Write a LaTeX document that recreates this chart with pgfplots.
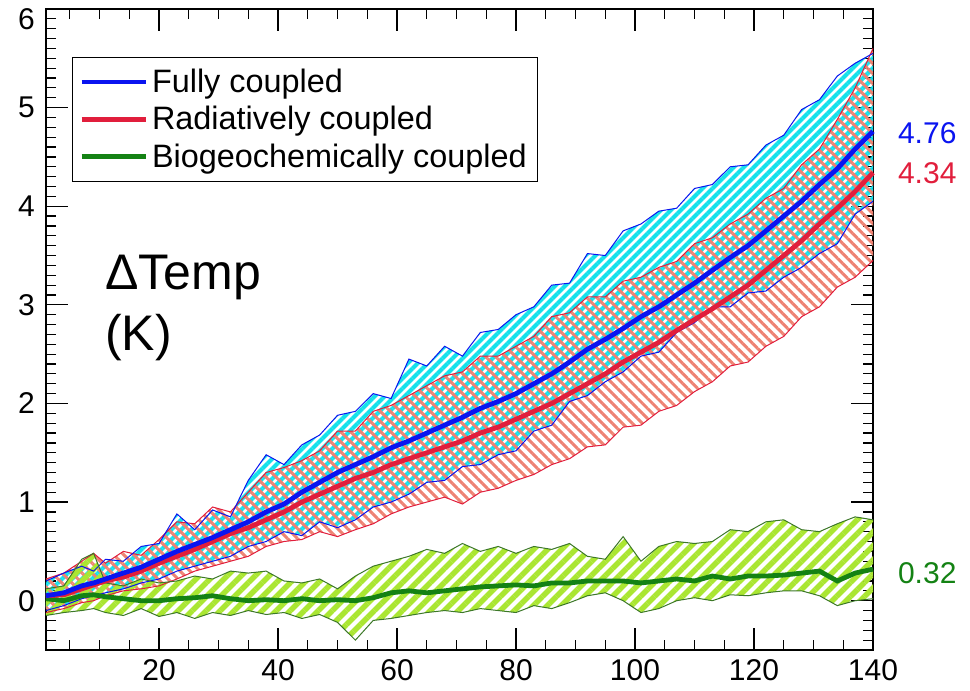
\documentclass[border=0pt]{standalone}
\usepackage{fontspec}
\setmainfont{Liberation Sans}
\usepackage{pgfplots}
\pgfplotsset{compat=1.18}
\usepackage{pgfplotstable}
\usepgfplotslibrary{fillbetween}
\usetikzlibrary{patterns.meta}

\definecolor{fcblue}{RGB}{10,20,240}
\definecolor{rcred}{RGB}{225,30,60}
\definecolor{bcgreen}{RGB}{20,130,20}
\definecolor{hatchcyan}{RGB}{20,225,235}
\definecolor{hatchred}{RGB}{238,130,115}
\definecolor{hatchgreen}{RGB}{170,230,50}
\definecolor{gedge}{RGB}{60,120,40}

\pgfplotstableread{
x   bm    bu    bl     rm    ru    rl     gm    gu    gl
1   0.05  0.20  -0.10  0.05  0.22  -0.12  0.02  0.12  -0.15
4   0.08  0.28  -0.05  0.06  0.28  -0.08  0.00  0.15  -0.12
7   0.15  0.35  0.02   0.12  0.40  -0.02  0.05  0.42  -0.10
9   0.18  0.30  0.05   0.16  0.48  0.00   0.06  0.48  -0.08
11  0.22  0.42  0.08   0.20  0.38  0.05   0.04  0.18  -0.12
14  0.28  0.40  0.12   0.24  0.50  0.10   0.02  0.15  -0.15
17  0.34  0.55  0.18   0.30  0.46  0.12   0.00  0.22  -0.08
20  0.42  0.58  0.22   0.38  0.62  0.15   0.00  0.18  -0.16
23  0.50  0.88  0.30   0.45  0.80  0.22   0.02  0.20  -0.12
26  0.57  0.72  0.35   0.52  0.78  0.30   0.03  0.25  -0.18
29  0.64  0.92  0.40   0.60  0.95  0.35   0.05  0.22  -0.12
32  0.72  0.85  0.45   0.68  0.90  0.40   0.02  0.30  -0.15
35  0.80  1.22  0.55   0.74  1.10  0.45   0.00  0.28  -0.10
38  0.90  1.48  0.60   0.82  1.30  0.55   0.01  0.30  -0.14
41  0.98  1.38  0.70   0.90  1.35  0.60   0.00  0.20  -0.12
44  1.10  1.58  0.66   1.00  1.42  0.62   0.02  0.18  -0.18
47  1.20  1.68  0.80   1.08  1.52  0.70   0.00  0.22  -0.14
50  1.30  1.88  0.74   1.16  1.72  0.65   0.01  0.12  -0.22
53  1.38  1.92  0.82   1.24  1.72  0.72   0.00  0.25  -0.40
56  1.46  2.10  0.95   1.30  1.92  0.78   0.03  0.35  -0.20
59  1.55  2.05  1.00   1.38  1.98  0.88   0.08  0.40  -0.18
62  1.62  2.45  1.08   1.44  2.08  0.95   0.10  0.45  -0.15
65  1.70  2.38  1.20   1.50  2.18  1.00   0.08  0.52  -0.12
68  1.78  2.58  1.22   1.56  2.28  1.05   0.10  0.48  -0.10
71  1.86  2.48  1.36   1.62  2.32  0.98   0.12  0.58  -0.12
74  1.95  2.72  1.38   1.70  2.48  1.10   0.14  0.50  -0.08
77  2.02  2.75  1.48   1.76  2.48  1.14   0.15  0.55  -0.10
80  2.10  2.90  1.52   1.84  2.58  1.22   0.16  0.48  -0.12
83  2.20  2.98  1.72   1.92  2.68  1.28   0.15  0.55  -0.05
86  2.30  3.20  1.78   2.00  2.88  1.38   0.18  0.52  -0.08
89  2.42  3.22  2.02   2.10  2.92  1.44   0.18  0.58  -0.02
92  2.55  3.52  2.08   2.20  3.08  1.56   0.20  0.45  0.05
95  2.65  3.50  2.22   2.30  3.08  1.58   0.20  0.42  0.08
98  2.76  3.75  2.32   2.42  3.24  1.76   0.20  0.65  0.00
101 2.88  3.82  2.48   2.52  3.28  1.78   0.18  0.40  -0.12
104 2.98  3.95  2.52   2.62  3.38  1.92   0.20  0.55  -0.08
107 3.10  3.98  2.72   2.74  3.44  1.98   0.22  0.60  0.00
110 3.22  4.18  2.82   2.85  3.62  2.12   0.20  0.58  0.03
113 3.35  4.22  2.98   2.96  3.68  2.22   0.25  0.60  0.00
116 3.48  4.40  2.98   3.08  3.82  2.38   0.22  0.72  0.06
119 3.60  4.42  3.12   3.20  3.92  2.42   0.25  0.70  0.05
122 3.75  4.62  3.14   3.35  4.08  2.58   0.25  0.80  0.08
125 3.90  4.72  3.28   3.50  4.18  2.68   0.26  0.82  0.10
128 4.05  4.98  3.38   3.65  4.42  2.88   0.28  0.72  0.10
131 4.22  5.08  3.52   3.82  4.58  2.98   0.30  0.70  0.05
134 4.38  5.32  3.62   3.98  4.88  3.18   0.20  0.78  -0.05
137 4.58  5.45  3.92   4.15  5.20  3.28   0.28  0.85  0.00
140 4.76  5.55  4.05   4.34  5.60  3.45   0.32  0.82  0.02
}\data

\begin{document}
\begin{tikzpicture}
\begin{axis}[
  at={(0,0)}, anchor=south west,
  scale only axis, width=413.5pt, height=320.5pt,
  xmin=1, xmax=140, ymin=-0.5, ymax=6,
  xtick={20,40,...,140}, minor xtick={5,10,...,135},
  ytick={0,1,...,5}, minor ytick={-0.4,-0.3,...,5.95},
  extra y ticks={6},
  extra y tick style={yticklabel style={yshift=-5pt}},
  tick align=inside, major tick length=11pt, minor tick length=5pt,
  axis line style={line width=0.9pt},
  every tick/.style={black, line width=0.6pt},
  tick label style={font=\fontsize{15}{17}\selectfont},
  yticklabel style={xshift=-2pt},
  xticklabel style={yshift=-1pt},
  /pgf/number format/assume math mode=true,
  clip=false,
  legend cell align=left,
  legend image code/.code={\draw[#1] (0pt,0pt) -- (32pt,0pt);},
  legend style={at={(0.031,0.925)}, anchor=north west, draw=black, line width=0.6pt,
    fill=white, font=\fontsize{16.2}{19}\selectfont, row sep=1.5pt, inner sep=3.5pt},
]
% envelopes (paths only)
\addplot[draw=none, name path=bu, forget plot] table[x=x,y=bu]{\data};
\addplot[draw=none, name path=bl, forget plot] table[x=x,y=bl]{\data};
\addplot[draw=none, name path=ru, forget plot] table[x=x,y=ru]{\data};
\addplot[draw=none, name path=rl, forget plot] table[x=x,y=rl]{\data};
\addplot[draw=none, name path=gu, forget plot] table[x=x,y=gu]{\data};
\addplot[draw=none, name path=gl, forget plot] table[x=x,y=gl]{\data};
% hatched bands
\addplot[pattern={Lines[angle=45,distance=3.536pt,line width=2.1pt]}, pattern color=hatchcyan, forget plot] fill between[of=bu and bl];
\addplot[pattern={Lines[angle=-45,distance=3.536pt,line width=1.5pt]}, pattern color=hatchred, forget plot] fill between[of=ru and rl];
\addplot[pattern={Lines[angle=45,distance=4.95pt,line width=2.8pt]}, pattern color=hatchgreen, forget plot] fill between[of=gu and gl];
% envelope outlines
\addplot[rcred, line width=0.5pt, forget plot] table[x=x,y=ru]{\data};
\addplot[rcred, line width=0.5pt, forget plot] table[x=x,y=rl]{\data};
\addplot[fcblue, line width=0.5pt, forget plot] table[x=x,y=bu]{\data};
\addplot[fcblue, line width=0.5pt, forget plot] table[x=x,y=bl]{\data};
\addplot[gedge, line width=0.5pt, forget plot] table[x=x,y=gu]{\data};
\addplot[gedge, line width=0.5pt, forget plot] table[x=x,y=gl]{\data};
% means
\addplot[bcgreen, line width=2.4pt, forget plot] table[x=x,y=gm]{\data};
\addplot[rcred, line width=2.4pt, forget plot] table[x=x,y=rm]{\data};
\addplot[fcblue, line width=2.4pt, forget plot] table[x=x,y=bm]{\data};
% legend
\addlegendimage{fcblue, line width=2.4pt}
\addlegendentry{Fully coupled}
\addlegendimage{rcred, line width=2.4pt}
\addlegendentry{Radiatively coupled}
\addlegendimage{bcgreen, line width=2.4pt}
\addlegendentry{Biogeochemically coupled}
% annotations
\node[anchor=base west, font=\fontsize{25}{30}\selectfont] at (rel axis cs:0.063,0.562) {ΔTemp};
\node[anchor=base west, font=\fontsize{25}{30}\selectfont] at (rel axis cs:0.063,0.468) {(K)};
\node[anchor=west, xshift=9pt, text=fcblue, font=\fontsize{15}{17}\selectfont] at (axis cs:140,4.74) {4.76};
\node[anchor=west, xshift=9pt, text=rcred, font=\fontsize{15}{17}\selectfont] at (axis cs:140,4.34) {4.34};
\node[anchor=west, xshift=9pt, text=bcgreen, font=\fontsize{15}{17}\selectfont] at (axis cs:140,0.28) {0.32};
\end{axis}
\pgfresetboundingbox
\useasboundingbox (-23pt,-20.5pt) rectangle (462pt,325pt);
\end{tikzpicture}
\end{document}
